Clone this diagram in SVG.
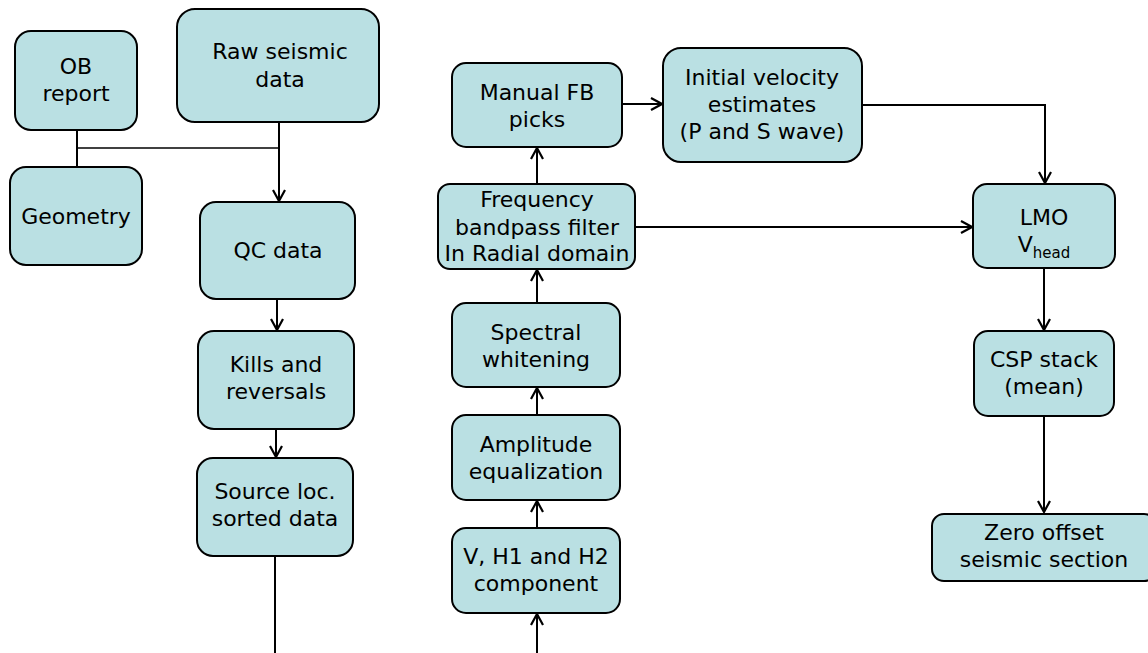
<svg xmlns="http://www.w3.org/2000/svg" width="1148" height="653" viewBox="0 0 1148 653">
  <style>
    .box { fill: #bae0e3; stroke: #000; stroke-width: 2; }
    .lbl { font-family: "DejaVu Sans", Verdana, sans-serif; font-size: 22px; fill: #000; text-anchor: middle; }
    .sub { font-size: 15px; }
    .wire { fill: none; stroke: #000; stroke-width: 2; }
    .thin { stroke-width: 1.6; }
  </style>
  <defs>
    <marker id="arrow" viewBox="0 0 14 14" refX="12.5" refY="7" markerWidth="14" markerHeight="14" markerUnits="userSpaceOnUse" orient="auto">
      <polyline points="1.5,1 12.5,7 1.5,13" fill="none" stroke="#000" stroke-width="2.2"/>
    </marker>
  </defs>

  <rect width="1148" height="653" fill="#fff"/>

  <!-- connectors -->
  <g id="connectors">
    <line class="wire" x1="77" y1="130" x2="77" y2="167"/>
    <line class="wire thin" x1="77" y1="148" x2="280" y2="148"/>
    <line class="wire" x1="279" y1="122" x2="279" y2="201" marker-end="url(#arrow)"/>
    <line class="wire" x1="277" y1="299" x2="277" y2="330" marker-end="url(#arrow)"/>
    <line class="wire" x1="276" y1="429" x2="276" y2="457" marker-end="url(#arrow)"/>
    <line class="wire" x1="275" y1="556" x2="275" y2="653"/>

    <line class="wire" x1="537" y1="653" x2="537" y2="614" marker-end="url(#arrow)"/>
    <line class="wire" x1="537" y1="528" x2="537" y2="501" marker-end="url(#arrow)"/>
    <line class="wire" x1="537" y1="415" x2="537" y2="388" marker-end="url(#arrow)"/>
    <line class="wire" x1="537" y1="303" x2="537" y2="270" marker-end="url(#arrow)"/>
    <line class="wire" x1="537" y1="184" x2="537" y2="148" marker-end="url(#arrow)"/>
    <line class="wire" x1="622" y1="104" x2="662" y2="104" marker-end="url(#arrow)"/>
    <line class="wire" x1="635" y1="227" x2="972" y2="227" marker-end="url(#arrow)"/>
    <polyline class="wire" points="862,105 1045,105 1045,183" marker-end="url(#arrow)"/>
    <line class="wire" x1="1044" y1="268" x2="1044" y2="330" marker-end="url(#arrow)"/>
    <line class="wire" x1="1044" y1="416" x2="1044" y2="512" marker-end="url(#arrow)"/>
  </g>

  <!-- left column -->
  <g id="ob-report">
    <rect class="box" x="15" y="31" width="122" height="99" rx="16"/>
    <text class="lbl" x="76" y="74">OB</text>
    <text class="lbl" x="76" y="101">report</text>
  </g>
  <g id="geometry">
    <rect class="box" x="10" y="167" width="132" height="98" rx="16"/>
    <text class="lbl" x="76" y="224">Geometry</text>
  </g>
  <g id="raw-seismic">
    <rect class="box" x="177" y="9" width="202" height="113" rx="18"/>
    <text class="lbl" x="280" y="59">Raw seismic</text>
    <text class="lbl" x="280" y="87">data</text>
  </g>
  <g id="qc-data">
    <rect class="box" x="200" y="202" width="155" height="97" rx="16"/>
    <text class="lbl" x="278" y="258">QC data</text>
  </g>
  <g id="kills">
    <rect class="box" x="198" y="331" width="156" height="98" rx="16"/>
    <text class="lbl" x="276" y="372">Kills and</text>
    <text class="lbl" x="276" y="399">reversals</text>
  </g>
  <g id="source-loc">
    <rect class="box" x="197" y="458" width="156" height="98" rx="16"/>
    <text class="lbl" x="275" y="499">Source loc.</text>
    <text class="lbl" x="275" y="526">sorted data</text>
  </g>

  <!-- middle column -->
  <g id="manual-fb">
    <rect class="box" x="452" y="63" width="170" height="84" rx="14"/>
    <text class="lbl" x="537" y="100">Manual FB</text>
    <text class="lbl" x="537" y="127">picks</text>
  </g>
  <g id="initial-velocity">
    <rect class="box" x="663" y="48" width="199" height="114" rx="18"/>
    <text class="lbl" x="762" y="85">Initial velocity</text>
    <text class="lbl" x="762" y="112">estimates</text>
    <text class="lbl" x="762" y="139">(P and S wave)</text>
  </g>
  <g id="frequency">
    <rect class="box" x="438" y="184" width="197" height="85" rx="12"/>
    <text class="lbl" x="537" y="207">Frequency</text>
    <text class="lbl" x="537" y="235">bandpass filter</text>
    <text class="lbl" x="537" y="261">In Radial domain</text>
  </g>
  <g id="spectral">
    <rect class="box" x="452" y="303" width="168" height="84" rx="14"/>
    <text class="lbl" x="536" y="340">Spectral</text>
    <text class="lbl" x="536" y="367">whitening</text>
  </g>
  <g id="amplitude">
    <rect class="box" x="452" y="415" width="168" height="85" rx="14"/>
    <text class="lbl" x="536" y="452">Amplitude</text>
    <text class="lbl" x="536" y="479">equalization</text>
  </g>
  <g id="components">
    <rect class="box" x="452" y="528" width="168" height="85" rx="14"/>
    <text class="lbl" x="536" y="564">V, H1 and H2</text>
    <text class="lbl" x="536" y="591">component</text>
  </g>

  <!-- right column -->
  <g id="lmo">
    <rect class="box" x="973" y="184" width="142" height="84" rx="14"/>
    <text class="lbl" x="1044" y="225">LMO</text>
    <text class="lbl" x="1044" y="252"><tspan>V</tspan><tspan class="sub" dy="6">head</tspan></text>
  </g>
  <g id="csp-stack">
    <rect class="box" x="974" y="331" width="140" height="85" rx="14"/>
    <text class="lbl" x="1044" y="367">CSP stack</text>
    <text class="lbl" x="1044" y="394">(mean)</text>
  </g>
  <g id="zero-offset">
    <rect class="box" x="932" y="514" width="224" height="67" rx="12"/>
    <text class="lbl" x="1044" y="540">Zero offset</text>
    <text class="lbl" x="1044" y="567">seismic section</text>
  </g>
</svg>
